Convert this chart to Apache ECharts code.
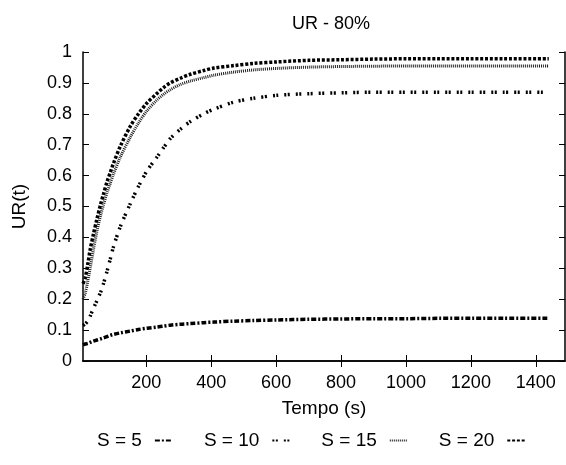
<!DOCTYPE html>
<html>
<head>
<meta charset="utf-8">
<script src="https://cdn.jsdelivr.net/npm/echarts@6/dist/echarts.min.js"></script>
<style>html,body{margin:0;padding:0;background:#fff;}#c{width:566px;height:465px;}</style>
</head>
<body>
<div id="c"></div>
<script>
var times = [5, 12, 20, 27, 37, 48, 60, 68, 79, 89, 99, 120, 151, 176, 202, 233, 253, 274, 305, 336, 377, 408, 470, 530, 603, 700, 800, 900, 1000, 1100, 1200, 1300, 1440];
var s5  = [0.052,0.055,0.057,0.060,0.064,0.068,0.072,0.075,0.079,0.083,0.086,0.091,0.097,0.102,0.106,0.110,0.113,0.116,0.119,0.121,0.124,0.126,0.129,0.131,0.133,0.135,0.136,0.137,0.137,0.138,0.138,0.138,0.138];
var s10 = [0.115,0.120,0.130,0.145,0.170,0.195,0.225,0.250,0.290,0.330,0.370,0.435,0.510,0.565,0.615,0.660,0.690,0.720,0.750,0.775,0.800,0.815,0.838,0.850,0.860,0.865,0.868,0.870,0.870,0.870,0.870,0.870,0.870];
var s15 = [0.200,0.220,0.260,0.300,0.360,0.420,0.475,0.505,0.545,0.575,0.605,0.660,0.725,0.770,0.810,0.845,0.863,0.878,0.895,0.906,0.917,0.925,0.935,0.942,0.947,0.951,0.953,0.954,0.955,0.955,0.955,0.955,0.955];
var s20 = [0.250,0.270,0.315,0.360,0.410,0.460,0.510,0.540,0.580,0.610,0.640,0.695,0.760,0.800,0.835,0.866,0.885,0.900,0.915,0.928,0.940,0.948,0.956,0.963,0.968,0.973,0.975,0.977,0.978,0.978,0.978,0.978,0.978];
var seriesNames = ['S = 5', 'S = 10', 'S = 15', 'S = 20'];
var xTicks = [200, 400, 600, 800, 1000, 1200, 1400];
var titleText = 'UR - 80%';
var xName = 'Tempo (s)';
var yName = 'UR(t)';

function pairs(vals) { return times.map(function (t, i) { return [t, vals[i]]; }); }

var FONT = 'Liberation Sans';
var styles = [
  {type: [5, 2, 2, 2], width: 3.5, color: '#000'},
  {type: [2, 1.5, 2, 6], width: 3.5, color: '#000'},
  {type: [1, 1], width: 3, color: '#222'},
  {type: [3, 1.8], width: 3.5, color: '#000'}
];
var data = [s5, s10, s15, s20];

var chart = echarts.init(document.getElementById('c'), null, {renderer: 'canvas'});
chart.setOption({
  animation: false,
  backgroundColor: '#fff',
  title: {text: titleText, left: 326, top: 10, textAlign: 'center',
    textStyle: {fontFamily: FONT, fontSize: 18, fontWeight: 'normal', color: '#000'}},
  legend: {
    bottom: 10, left: 92, align: 'right', itemWidth: 18, itemHeight: 8, itemGap: 30,
    itemStyle: {opacity: 0},
    textStyle: {fontFamily: FONT, fontSize: 19, color: '#000', padding: [0, 8, 0, 0]},
    data: seriesNames
  },
  grid: {left: 83, right: 1, top: 52, bottom: 104},
  xAxis: [{
    type: 'value', min: 5, max: 1490, position: 'bottom',
    name: xName, nameLocation: 'middle', nameGap: 38,
    nameTextStyle: {fontFamily: FONT, fontSize: 19, color: '#000'},
    axisLine: {show: true, lineStyle: {color: '#000', width: 1.5}},
    axisTick: {show: true, inside: true, length: 6, customValues: xTicks, lineStyle: {color: '#000'}},
    axisLabel: {customValues: xTicks, fontFamily: FONT, fontSize: 18, color: '#000', margin: 13,
      formatter: function (v) { return String(v); }},
    splitLine: {show: false}
  }, {
    type: 'value', min: 5, max: 1490, position: 'top',
    axisLine: {show: true, lineStyle: {color: '#000', width: 1.5}},
    axisTick: {show: true, inside: true, length: 6, customValues: xTicks, lineStyle: {color: '#000'}},
    axisLabel: {show: false}, splitLine: {show: false}
  }],
  yAxis: [{
    type: 'value', min: 0, max: 1, interval: 0.1, position: 'left',
    name: yName, nameLocation: 'middle', nameGap: 54, nameRotate: 90,
    nameTextStyle: {fontFamily: FONT, fontSize: 19, color: '#000'},
    axisLine: {show: true, lineStyle: {color: '#000', width: 1.5}},
    axisTick: {show: true, inside: true, length: 6, lineStyle: {color: '#000'}},
    axisLabel: {fontFamily: FONT, fontSize: 18, color: '#000', margin: 11,
      formatter: function (v) { return String(Math.round(v * 10) / 10); }},
    splitLine: {show: false}
  }, {
    type: 'value', min: 0, max: 1, interval: 0.1, position: 'right',
    axisLine: {show: true, lineStyle: {color: '#000', width: 1.5}},
    axisTick: {show: true, inside: true, length: 6, lineStyle: {color: '#000'}},
    axisLabel: {show: false}, splitLine: {show: false}
  }],
  series: seriesNames.map(function (n, i) {
    return {
      name: n, type: 'line', xAxisIndex: 0, yAxisIndex: 0,
      data: pairs(data[i]), smooth: 0.3, showSymbol: false, symbol: 'none',
      color: '#000',
      lineStyle: {type: styles[i].type, width: styles[i].width, color: styles[i].color, cap: 'butt'}
    };
  })
});
</script>
</body>
</html>
